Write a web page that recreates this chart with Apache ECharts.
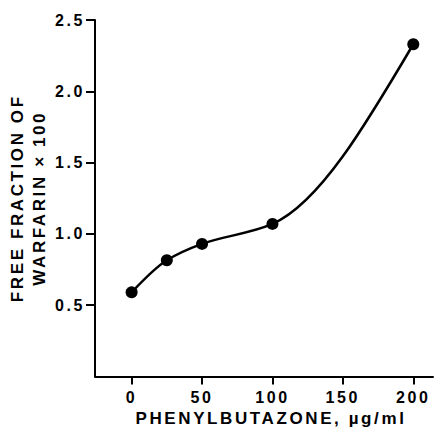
<!DOCTYPE html>
<html>
<head>
<meta charset="utf-8">
<script src="https://cdn.jsdelivr.net/npm/echarts@6/dist/echarts.min.js"></script>
<style>
  html, body { margin: 0; padding: 0; background: #fff; }
  #chart { width: 434px; height: 427px; }
  /* wide, tracked lettering of the printed figure */
  #chart text { letter-spacing: 2.6px; }
</style>
</head>
<body>
<div id="chart"></div>
<script>
// Phenylbutazone concentration (µg/ml) and free fraction of warfarin (x100)
const dose = [0, 25, 50, 100, 200];
const freeFraction = [0.59, 0.815, 0.93, 1.07, 2.33];
const xTicks = [0, 50, 100, 150, 200];
const yTicks = [0.5, 1.0, 1.5, 2.0, 2.5];
const xTitle = 'PHENYLBUTAZONE, \u00b5g/ml';
const yTitle = 'FREE FRACTION OF\nWARFARIN \u00d7 100';

const ink = '#000';
const font = '"Liberation Sans", Arial, Helvetica, sans-serif';

// Tangents for a smooth monotone curve through the points:
// Fritsch–Carlson weighted harmonic means inside, zero-curvature ends.
function curveTangents(xs, ys) {
  const n = xs.length;
  const h = [], s = [];
  for (let i = 0; i < n - 1; i++) {
    h.push(xs[i + 1] - xs[i]);
    s.push((ys[i + 1] - ys[i]) / h[i]);
  }
  const m = new Array(n).fill(0);
  for (let i = 1; i < n - 1; i++) {
    if (s[i - 1] * s[i] <= 0) { m[i] = 0; continue; }
    const w1 = 2 * h[i] + h[i - 1];
    const w2 = h[i] + 2 * h[i - 1];
    m[i] = (w1 + w2) / (w1 / s[i - 1] + w2 / s[i]);
  }
  m[0] = (3 * s[0] - m[1]) / 2;
  m[n - 1] = (3 * s[n - 2] - m[n - 2]) / 2;
  return { h, m };
}
const tangents = curveTangents(dose, freeFraction);

// Each Hermite piece is an exact cubic, drawn as one bezier segment in pixel space.
function renderSegment(params, api) {
  const i = params.dataIndex;
  if (i >= dose.length - 1) return null;
  const hi = tangents.h[i];
  const m0 = tangents.m[i];
  const m1 = tangents.m[i + 1];
  const p0 = api.coord([dose[i], freeFraction[i]]);
  const p1 = api.coord([dose[i + 1], freeFraction[i + 1]]);
  const c0 = api.coord([dose[i] + hi / 3, freeFraction[i] + m0 * hi / 3]);
  const c1 = api.coord([dose[i + 1] - hi / 3, freeFraction[i + 1] - m1 * hi / 3]);
  return {
    type: 'bezierCurve',
    shape: { x1: p0[0], y1: p0[1], x2: p1[0], y2: p1[1], cpx1: c0[0], cpy1: c0[1], cpx2: c1[0], cpy2: c1[1] },
    style: { stroke: ink, lineWidth: 2.5, fill: 'none' }
  };
}

const points = dose.map((d, i) => [d, freeFraction[i]]);

const chart = echarts.init(document.getElementById('chart'), null, { renderer: 'svg' });

chart.setOption({
  backgroundColor: '#fff',
  animation: false,
  grid: { left: 95, right: 1, top: 20, bottom: 50.5, containLabel: false, outerBoundsMode: 'none' },
  xAxis: {
    type: 'value',
    min: -26,
    max: 214,
    name: xTitle,
    nameLocation: 'middle',
    nameGap: 32,
    nameTextStyle: { color: ink, fontFamily: font, fontSize: 17, fontWeight: 'bold', padding: [0, 0, 0, 14] },
    axisLine: { show: true, onZero: false, lineStyle: { color: ink, width: 2 } },
    axisTick: { show: true, length: 8, customValues: xTicks, lineStyle: { color: ink, width: 2 } },
    axisLabel: {
      customValues: xTicks,
      margin: 13,
      color: ink, fontFamily: font, fontSize: 16, fontWeight: 'bold'
    },
    splitLine: { show: false }
  },
  yAxis: {
    type: 'value',
    min: 0,
    max: 2.5,
    name: yTitle,
    nameLocation: 'middle',
    nameRotate: 90,
    nameGap: 45,
    nameTextStyle: { color: ink, fontFamily: font, fontSize: 17, fontWeight: 'bold', lineHeight: 22 },
    axisLine: { show: true, onZero: false, lineStyle: { color: ink, width: 2 } },
    axisTick: { show: true, length: 9, customValues: yTicks, lineStyle: { color: ink, width: 2 } },
    axisLabel: {
      customValues: yTicks,
      margin: 10,
      formatter: v => v.toFixed(1),
      color: ink, fontFamily: font, fontSize: 16, fontWeight: 'bold'
    },
    splitLine: { show: false }
  },
  series: [
    {
      type: 'custom',
      data: points,
      encode: { x: 0, y: 1 },
      renderItem: renderSegment,
      z: 2
    },
    {
      type: 'scatter',
      data: points,
      symbol: 'circle',
      symbolSize: 12,
      itemStyle: { color: ink, opacity: 1 },
      z: 3
    }
  ]
});
</script>
</body>
</html>
